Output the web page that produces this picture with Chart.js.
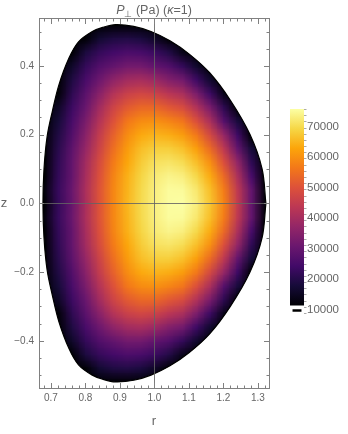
<!DOCTYPE html>
<html>
<head>
<meta charset="utf-8">
<script src="https://cdn.jsdelivr.net/npm/chart.js@4.4.1/dist/chart.umd.min.js"></script>
<style>
  html, body { margin: 0; padding: 0; background: #fff; }
  #wrap { position: relative; width: 348px; height: 434px; }
  #wrap canvas { position: absolute; left: 0; top: 0; }
</style>
</head>
<body>
<div id="wrap">
  <canvas id="plot" width="348" height="434"></canvas>
  <canvas id="bar" width="348" height="434"></canvas>
</div>
<script>
// pressure on a 0.04 x 0.04 grid (Pa)
const rGrid = [0.64, 0.68, 0.72, 0.76, 0.80, 0.84, 0.88, 0.92, 0.96, 1.00, 1.04, 1.08, 1.12, 1.16, 1.20, 1.24, 1.28, 1.32, 1.36];
const zGrid = [0.52, 0.48, 0.44, 0.40, 0.36, 0.32, 0.28, 0.24, 0.20, 0.16, 0.12, 0.08, 0.04, 0.00,
  -0.04, -0.08, -0.12, -0.16, -0.20, -0.24, -0.28, -0.32, -0.36, -0.40, -0.44, -0.48, -0.52];
const pressure = [
  [10000, 10000, 10000, 10000, 10000, 10000, 10000, 10000, 10000, 10000, 10000, 10000, 10000, 10000, 10000, 10000, 10000, 10000, 10000],
  [10000, 10000, 10000, 10000, 11700, 17000, 19100, 19600, 18600, 15700, 10000, 10000, 10000, 10000, 10000, 10000, 10000, 10000, 10000],
  [10000, 10000, 10000, 10000, 18700, 22300, 24500, 25900, 25200, 23100, 19800, 14000, 10000, 10000, 10000, 10000, 10000, 10000, 10000],
  [10000, 10000, 10000, 15900, 22200, 26900, 29600, 31900, 31900, 29400, 26800, 22200, 16500, 10000, 10000, 10000, 10000, 10000, 10000],
  [10000, 10000, 10000, 19100, 25400, 31100, 36300, 39400, 40300, 38300, 34500, 32000, 23700, 16500, 10000, 10000, 10000, 10000, 10000],
  [10000, 10000, 11700, 21300, 28300, 35500, 42300, 46100, 47600, 46500, 43200, 40800, 33500, 23500, 13800, 10000, 10000, 10000, 10000],
  [10000, 10000, 15400, 23400, 30500, 39400, 46800, 51500, 53800, 53800, 51100, 48800, 42000, 33000, 21300, 10000, 10000, 10000, 10000],
  [10000, 10000, 17700, 25200, 33200, 42300, 50000, 56300, 59200, 60000, 58300, 56000, 49600, 40800, 27400, 18300, 10000, 10000, 10000],
  [10000, 10000, 19400, 26800, 35500, 45000, 52800, 59300, 63300, 64800, 63900, 61700, 56600, 47900, 37400, 23700, 10000, 10000, 10000],
  [10000, 10000, 20600, 28600, 37600, 46700, 54900, 61400, 66000, 68300, 68200, 66400, 62000, 54200, 44000, 29500, 17700, 10000, 10000],
  [10000, 10000, 21500, 29500, 39500, 48700, 56800, 63000, 67700, 70900, 71500, 70200, 66200, 59800, 49500, 37000, 21500, 10000, 10000],
  [10000, 11500, 22100, 29800, 40300, 49700, 58100, 64200, 69000, 72500, 74000, 73200, 69600, 63600, 54100, 41100, 25200, 10000, 10000],
  [10000, 12600, 22700, 30600, 41000, 50400, 58500, 64700, 69600, 73200, 75200, 75100, 72000, 66000, 57000, 44000, 29500, 12100, 10000],
  [10000, 11700, 22300, 30200, 40700, 50300, 58600, 65000, 69800, 73300, 75400, 75900, 73000, 66900, 58000, 44700, 29500, 12300, 10000],
  [10000, 12600, 22700, 30600, 41000, 50400, 58500, 64700, 69600, 73200, 75200, 75100, 72000, 66000, 57000, 44000, 29500, 12100, 10000],
  [10000, 11500, 22100, 29800, 40300, 49700, 58100, 64200, 69000, 72500, 74000, 73200, 69600, 63600, 54100, 41100, 25200, 10000, 10000],
  [10000, 10000, 21500, 29500, 39500, 48700, 56800, 63000, 67700, 70900, 71500, 70200, 66200, 59800, 49500, 37000, 21500, 10000, 10000],
  [10000, 10000, 20600, 28600, 37600, 46700, 54900, 61400, 66000, 68300, 68200, 66400, 62000, 54200, 44000, 29500, 17700, 10000, 10000],
  [10000, 10000, 19400, 26800, 35500, 45000, 52800, 59300, 63300, 64800, 63900, 61700, 56600, 47900, 37400, 23700, 10000, 10000, 10000],
  [10000, 10000, 17700, 25200, 33200, 42300, 50000, 56300, 59200, 60000, 58300, 56000, 49600, 40800, 27400, 18300, 10000, 10000, 10000],
  [10000, 10000, 15400, 23400, 30500, 39400, 46800, 51500, 53800, 53800, 51100, 48800, 42000, 33000, 21300, 10000, 10000, 10000, 10000],
  [10000, 10000, 11700, 21300, 28300, 35500, 42300, 46100, 47600, 46500, 43200, 40800, 33500, 23500, 13800, 10000, 10000, 10000, 10000],
  [10000, 10000, 10000, 19100, 25400, 31100, 36300, 39400, 40300, 38300, 34500, 32000, 23700, 16500, 10000, 10000, 10000, 10000, 10000],
  [10000, 10000, 10000, 15900, 22200, 26900, 29600, 31900, 31900, 29400, 26800, 22200, 16500, 10000, 10000, 10000, 10000, 10000, 10000],
  [10000, 10000, 10000, 10000, 18700, 22300, 24500, 25900, 25200, 23100, 19800, 14000, 10000, 10000, 10000, 10000, 10000, 10000, 10000],
  [10000, 10000, 10000, 10000, 11700, 17000, 19100, 19600, 18600, 15700, 10000, 10000, 10000, 10000, 10000, 10000, 10000, 10000, 10000],
  [10000, 10000, 10000, 10000, 10000, 10000, 10000, 10000, 10000, 10000, 10000, 10000, 10000, 10000, 10000, 10000, 10000, 10000, 10000]
];

// plasma boundary (r, z)
const boundaryR = [1.323, 1.312, 1.277, 1.22, 1.16, 1.10, 1.045, 0.99, 0.94, 0.887, 0.85, 0.82, 0.78, 0.752, 0.723, 0.704, 0.689, 0.68,
  0.677, 0.68, 0.689, 0.704, 0.723, 0.752, 0.78, 0.82, 0.85, 0.887, 0.94, 0.99, 1.045, 1.10, 1.16, 1.22, 1.277, 1.312, 1.323];
const boundaryZ = [0, 0.10, 0.20, 0.30, 0.38, 0.435, 0.473, 0.50, 0.515, 0.52, 0.512, 0.50, 0.47, 0.422, 0.344, 0.267, 0.194, 0.10,
  0, -0.10, -0.194, -0.267, -0.344, -0.422, -0.47, -0.50, -0.512, -0.52, -0.515, -0.50, -0.473, -0.435, -0.38, -0.30, -0.20, -0.10, 0];

const rRange = [0.6655, 1.332];
const zRange = [-0.5375, 0.5365];
const axisOrigin = [1.0, 0.0];

// colour bar
const pMin = 11400, pMax = 75700;
const barAxis = [8870, 75700];
const barMark = [9280, 10100];
const barLabels = [10000, 20000, 30000, 40000, 50000, 60000, 70000];

const inferno = ['#000004', '#160b39', '#420a68', '#6a176e', '#932667', '#bc3754',
  '#dd513a', '#f37819', '#fca50a', '#f6d746', '#fcffa4'];

Chart.defaults.font.family = '"Liberation Sans", Arial, sans-serif';
const textColor = '#666';

function hex(h) {
  return [1, 3, 5].map(i => parseInt(h.slice(i, i + 2), 16));
}
function colour(v) {
  let t = (v - pMin) / (pMax - pMin);
  t = Math.min(1, Math.max(0, t));
  const f = t * (inferno.length - 1);
  const i = Math.min(inferno.length - 2, Math.floor(f));
  const a = hex(inferno[i]), b = hex(inferno[i + 1]);
  const u = f - i;
  return a.map((c, k) => Math.round(c + (b[k] - c) * u));
}
function isMultiple(v, step) {
  return Math.abs(v / step - Math.round(v / step)) < 1e-6;
}

const heatmap = {
  id: 'heatmap',
  beforeDatasetsDraw(chart) {
    const {ctx, scales: {x, y}} = chart;
    const nx = rGrid.length, ny = zGrid.length;
    const img = document.createElement('canvas');
    img.width = nx;
    img.height = ny;
    const ic = img.getContext('2d');
    const pix = ic.createImageData(nx, ny);
    for (let j = 0; j < ny; j++) {
      for (let i = 0; i < nx; i++) {
        const c = colour(pressure[j][i]);
        const k = (j * nx + i) * 4;
        pix.data[k] = c[0];
        pix.data[k + 1] = c[1];
        pix.data[k + 2] = c[2];
        pix.data[k + 3] = 255;
      }
    }
    ic.putImageData(pix, 0, 0);

    const dr = rGrid[1] - rGrid[0], dz = zGrid[0] - zGrid[1];
    const left = x.getPixelForValue(rGrid[0] - dr / 2);
    const right = x.getPixelForValue(rGrid[nx - 1] + dr / 2);
    const top = y.getPixelForValue(zGrid[0] + dz / 2);
    const bottom = y.getPixelForValue(zGrid[ny - 1] - dz / 2);

    ctx.save();
    ctx.beginPath();
    const line = chart.getDatasetMeta(0).dataset;
    if (line && typeof line.path === 'function') {
      line.updateControlPoints(chart.chartArea, 'x');
      line.path(ctx);
    } else {
      boundaryR.forEach((r, i) => {
        const px = x.getPixelForValue(r), py = y.getPixelForValue(boundaryZ[i]);
        if (i === 0) ctx.moveTo(px, py); else ctx.lineTo(px, py);
      });
    }
    ctx.closePath();
    ctx.clip();
    ctx.imageSmoothingEnabled = true;
    ctx.drawImage(img, left, top, right - left, bottom - top);
    ctx.restore();
  }
};

const frame = {
  id: 'frame',
  afterDatasetsDraw(chart) {
    const {ctx, chartArea: a, scales: {x, y}} = chart;
    ctx.save();
    ctx.lineWidth = 1;
    // axes through (1, 0)
    ctx.strokeStyle = 'rgba(100,100,100,0.85)';
    const ox = Math.round(x.getPixelForValue(axisOrigin[0])) + 0.5;
    const oy = Math.round(y.getPixelForValue(axisOrigin[1])) + 0.5;
    ctx.beginPath();
    ctx.moveTo(ox, a.top);
    ctx.lineTo(ox, a.bottom);
    ctx.moveTo(a.left, oy);
    ctx.lineTo(a.right, oy);
    ctx.stroke();

    // frame and inward ticks on all four sides
    ctx.strokeStyle = '#808080';
    ctx.strokeRect(a.left + 0.5, a.top - 0.5, a.right - a.left, a.bottom - a.top + 1);
    ctx.beginPath();
    x.ticks.forEach(t => {
      const px = Math.round(x.getPixelForValue(t.value)) + 0.5;
      const len = isMultiple(t.value, 0.1) ? 5 : 2.5;
      ctx.moveTo(px, a.bottom);
      ctx.lineTo(px, a.bottom - len);
      ctx.moveTo(px, a.top);
      ctx.lineTo(px, a.top + len);
    });
    y.ticks.forEach(t => {
      const py = Math.round(y.getPixelForValue(t.value)) + 0.5;
      const len = isMultiple(t.value, 0.2) ? 5 : 2.5;
      ctx.moveTo(a.left, py);
      ctx.lineTo(a.left + len, py);
      ctx.moveTo(a.right, py);
      ctx.lineTo(a.right - len, py);
    });
    ctx.stroke();
    ctx.restore();
  },
  afterDraw(chart) {
    const {ctx, chartArea: a, scales: {y}} = chart;
    ctx.save();
    ctx.fillStyle = textColor;
    // title: P⊥ (Pa) (κ=1)
    const parts = [
      ['P', 'italic', 12.5, 0],
      ['\u22a5', 'normal', 9, 3],
      [' (Pa) (', 'normal', 12.5, 0],
      ['\u03ba', 'italic', 12.5, 0],
      ['=1)', 'normal', 12.5, 0]
    ];
    const fam = Chart.defaults.font.family;
    let w = 0;
    parts.forEach(p => {
      ctx.font = p[1] + ' ' + p[2] + 'px ' + fam;
      w += ctx.measureText(p[0]).width;
    });
    let cx = (a.left + a.right) / 2 - w / 2;
    ctx.textBaseline = 'alphabetic';
    ctx.textAlign = 'left';
    parts.forEach(p => {
      ctx.font = p[1] + ' ' + p[2] + 'px ' + fam;
      ctx.fillText(p[0], cx, 14 + p[3]);
      cx += ctx.measureText(p[0]).width;
    });
    // upright z axis label
    ctx.font = '13px ' + fam;
    ctx.textAlign = 'center';
    ctx.fillText('z', 4, y.getPixelForValue(axisOrigin[1]) + 3.5);
    ctx.restore();
  }
};

new Chart(document.getElementById('plot'), {
  type: 'scatter',
  data: {
    datasets: [{
      data: boundaryR.map((r, i) => ({x: r, y: boundaryZ[i]})),
      showLine: true,
      borderColor: '#000',
      borderWidth: 1.2,
      pointRadius: 0,
      tension: 0.35,
      fill: false
    }]
  },
  options: {
    responsive: false,
    animation: false,
    devicePixelRatio: 1,
    events: [],
    layout: {padding: {left: 0, right: 79, top: 19, bottom: 0}},
    plugins: {legend: {display: false}, tooltip: {enabled: false}},
    scales: {
      x: {
        type: 'linear',
        min: rRange[0],
        max: rRange[1],
        afterFit: s => { s.height = 46; },
        grid: {display: false, drawTicks: false},
        border: {display: false},
        ticks: {
          stepSize: 0.02, includeBounds: false, autoSkip: false, maxRotation: 0,
          padding: 4, color: textColor, font: {size: 10},
          callback: v => isMultiple(v, 0.1) ? v.toFixed(1) : ''
        },
        title: {display: true, text: 'r', color: textColor, font: {size: 13}, padding: {top: 0, bottom: 5}}
      },
      y: {
        type: 'linear',
        min: zRange[0],
        max: zRange[1],
        afterFit: s => { s.width = 39; },
        grid: {display: false, drawTicks: false},
        border: {display: false},
        ticks: {
          stepSize: 0.05, includeBounds: false, autoSkip: false,
          padding: 5, color: textColor, font: {size: 10},
          callback: v => {
            if (!isMultiple(v, 0.2)) return '';
            if (Math.abs(v) < 1e-9) return '0.0';
            return v.toFixed(1).replace('-', '\u2212');
          }
        }
      }
    }
  },
  plugins: [heatmap, frame]
});

function barGradient(c) {
  const chart = c.chart;
  if (!chart.chartArea) return inferno[5];
  const y = chart.scales.y;
  const g = chart.ctx.createLinearGradient(0, y.getPixelForValue(pMin), 0, y.getPixelForValue(pMax));
  inferno.forEach((col, i) => g.addColorStop(i / (inferno.length - 1), col));
  return g;
}

// colour bar ticks and numbers, placed with the bar's own y scale
const barText = {
  id: 'barText',
  afterDraw(chart) {
    const {ctx, scales: {y}} = chart;
    ctx.save();
    ctx.strokeStyle = '#aaa';
    ctx.lineWidth = 1;
    ctx.beginPath();
    y.ticks.forEach(t => {
      const py = Math.round(y.getPixelForValue(t.value)) + 0.5;
      ctx.moveTo(y.left, py);
      ctx.lineTo(y.left + 2.5, py);
    });
    ctx.stroke();
    ctx.fillStyle = textColor;
    ctx.font = '11.5px ' + Chart.defaults.font.family;
    ctx.textAlign = 'left';
    ctx.textBaseline = 'middle';
    barLabels.forEach(v => {
      ctx.fillText(String(v), y.left + 3, y.getPixelForValue(v));
    });
    ctx.restore();
  }
};

new Chart(document.getElementById('bar'), {
  type: 'bar',
  data: {
    labels: [''],
    datasets: [
      {data: [[pMin, pMax]], backgroundColor: barGradient, barPercentage: 1, categoryPercentage: 1, grouped: false, borderWidth: 0},
      {data: [barMark], backgroundColor: '#000', barPercentage: 0.64, categoryPercentage: 1, grouped: false, borderWidth: 0}
    ]
  },
  options: {
    responsive: false,
    animation: false,
    devicePixelRatio: 1,
    events: [],
    layout: {padding: {left: 290, top: 109, bottom: 121, right: 0}},
    plugins: {legend: {display: false}, tooltip: {enabled: false}},
    scales: {
      x: {display: false},
      y: {
        position: 'right',
        min: barAxis[0],
        max: barAxis[1],
        afterFit: s => { s.width = 44; },
        grid: {display: false},
        border: {display: false},
        ticks: {stepSize: 2000, includeBounds: false, autoSkip: false, display: false}
      }
    }
  },
  plugins: [barText]
});
</script>
</body>
</html>
